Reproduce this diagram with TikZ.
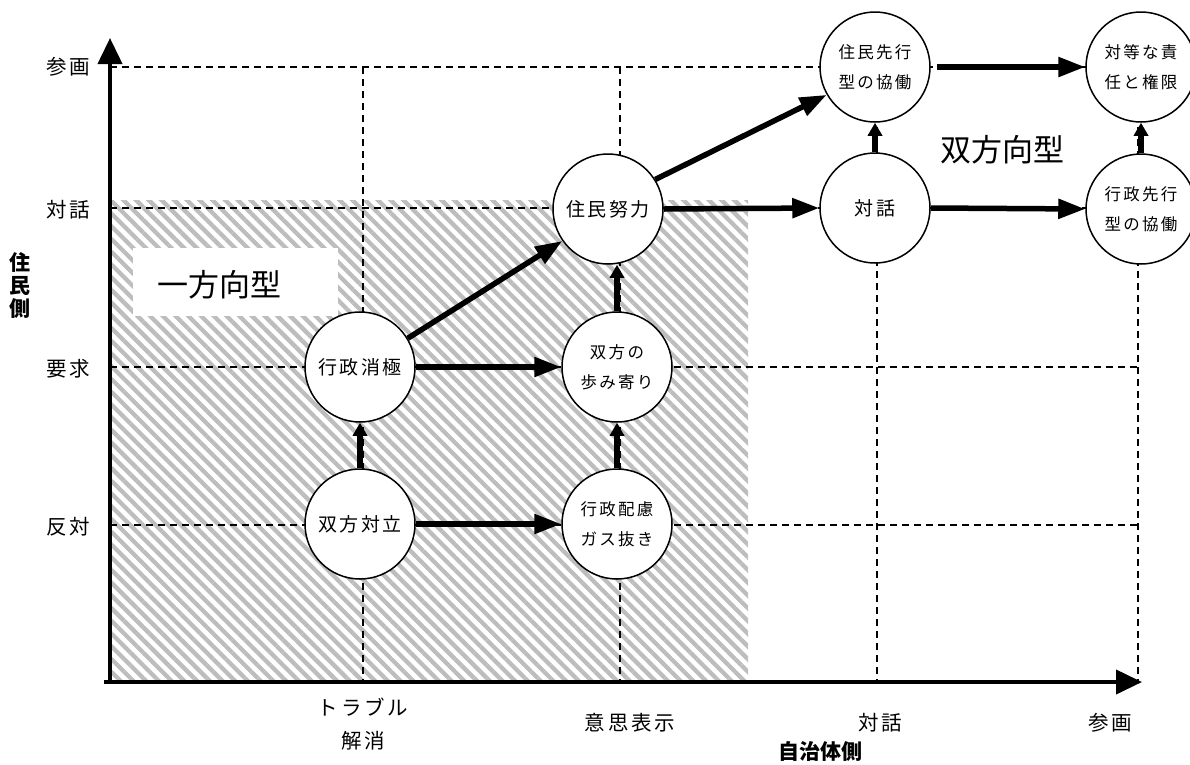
\documentclass[tikz,border=0pt]{standalone}
\usepackage{fontspec}
\setmainfont{Noto Sans CJK JP}
\newfontfamily\jsp[LetterSpace=14]{Noto Sans CJK JP}
\usetikzlibrary{patterns.meta, arrows.meta}
\tikzset{
  circ/.style={circle, draw, line width=1.5pt, fill=white, minimum size=110pt, inner sep=0pt, align=center, font=\jsp\fontsize{19}{24}\selectfont},
  circtwo/.style={circ, font=\jsp\fontsize{16.5}{30}\selectfont},
  gridline/.style={line width=1.3pt, dash pattern=on 7pt off 5pt},
  flow/.style={line width=5.5pt, -{Triangle[length=27pt, width=19pt]}},
  shortflow/.style={line width=5.5pt, -{Triangle[length=13pt, width=14pt]}},
  axis/.style={line width=4pt, -{Triangle[length=26pt, width=24pt]}},
  axlabel/.style={font=\jsp\fontsize{20.5}{33}\selectfont, align=center},
  axtitle/.style={font=\bfseries\fontsize{21}{23}\selectfont, align=center},
  biglabel/.style={font=\fontsize{31}{34}\selectfont},
}
\begin{document}
\begin{tikzpicture}[x=1pt, y=-1pt]
\useasboundingbox (0,0) rectangle (1190,764);
% hatched region
\fill[pattern={Lines[angle=-45, distance=9pt, line width=4.3pt]}, pattern color=black!26] (112,200) rectangle (748,680);
% white box
\fill[white] (133,248) rectangle (338,316);
\node[biglabel] (one) at (219,285) {一方向型};
\node[biglabel] (two) at (1002,150) {双方向型};
% grid
\foreach \yy in {67,208,367,525} \draw[gridline] (110,\yy) -- (1138,\yy);
\foreach \xx in {363,620,877,1138} \draw[gridline] (\xx,67) -- (\xx,682);
% axes
\coordinate (yb) at (110,684);
\coordinate (yt) at (110,38);
\coordinate (xl) at (104,682);
\coordinate (xr) at (1142,682);
\draw[axis] (yb) -- (yt);
\draw[axis] (xl) -- (xr);
% nodes
\node[circ] (n1) at (360,524) {双方対立};
\node[circ] (n2) at (360,367) {行政消極};
\node[circtwo] (n3) at (617,524) {行政配慮\\ガス抜き};
\node[circtwo] (n4) at (617,367) {双方の\\歩み寄り};
\node[circ] (n5) at (608,209) {住民努力};
\node[circ] (n6) at (875,208) {対話};
\node[circtwo] (n7) at (875,67) {住民先行\\型の協働};
\node[circtwo] (n8) at (1141,67) {対等な責\\任と権限};
\node[circtwo] (n9) at (1141,209) {行政先行\\型の協働};
% arrows
\draw[flow] (n1.east) -- (n3.west);
\draw[flow] (n2.east) -- (n4.west);
\draw[shortflow] (n1.north) -- (n2.south);
\draw[shortflow] (n3.north) -- (n4.south);
\draw[shortflow] (n4.north) -- (n4.north |- n5.south);
\draw[flow] (n2.31) -- (n5.215);
\draw[flow] (n5.east) -- (n6.west);
\draw[flow] (n5.32) -- (n7.210);
\draw[shortflow] (n6.north) -- (n7.south);
\draw[flow] (n6.east) -- (n9.west);
\draw[flow, shorten <=6pt] (n7.east) -- (n8.west);
\draw[shortflow] (n9.north) -- (n8.south);
% axis labels
\node[axlabel] (ly1) at (68,67) {参画};
\node[axlabel] (ly2) at (68,210) {対話};
\node[axlabel] (ly3) at (68,369) {要求};
\node[axlabel] (ly4) at (68,527) {反対};
\node[axtitle] (ytitle) at (20,285) {住\\民\\側};
\node[axlabel] (lx1) at (363,724) {トラブル\\解消};
\node[axlabel] (lx2) at (630,723) {意思表示};
\node[axlabel] (lx3) at (880,723) {対話};
\node[axlabel] (lx4) at (1110,723) {参画};
\node[axtitle] (xtitle) at (820,751) {自治体側};
\end{tikzpicture}
\end{document}
